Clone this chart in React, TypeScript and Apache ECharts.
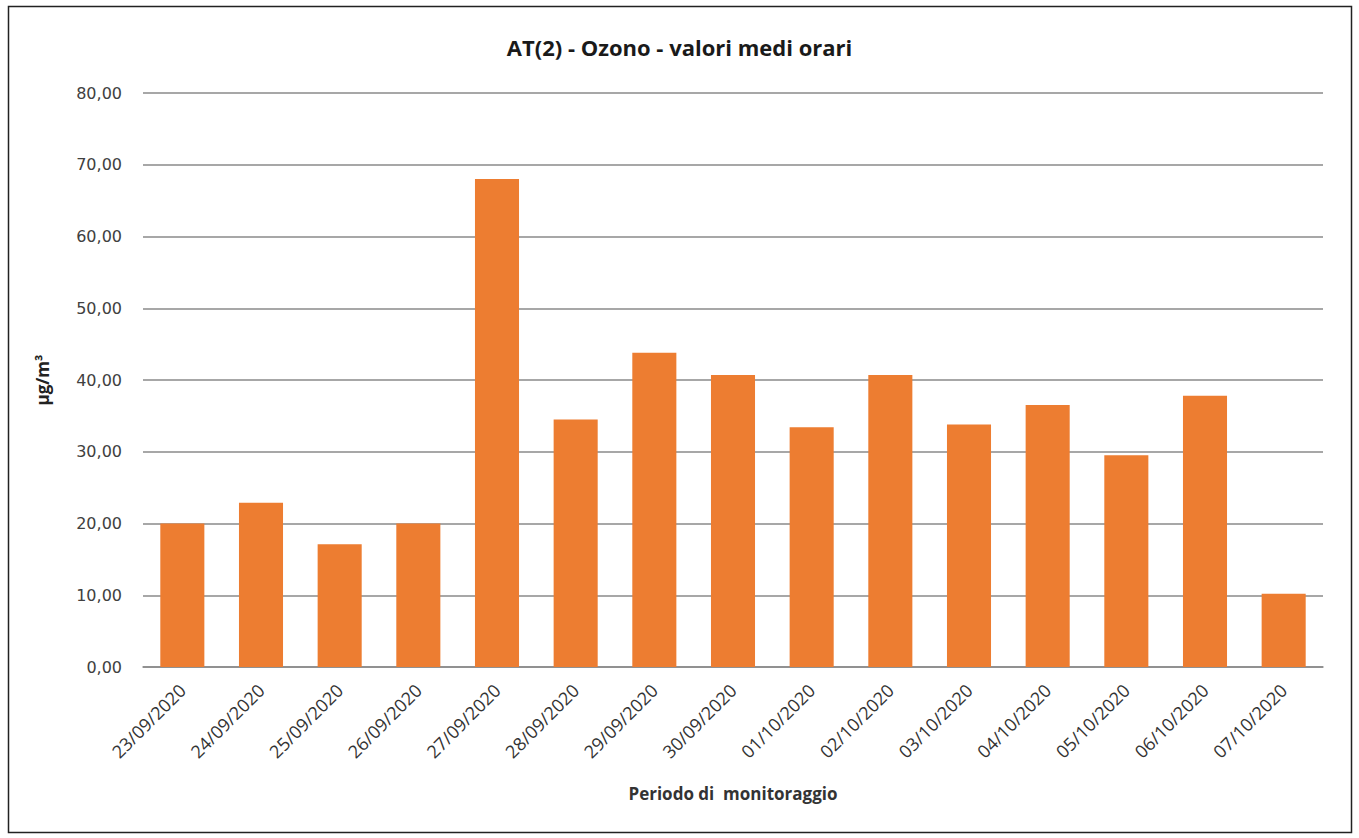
import React, { useEffect, useRef } from "react";
import * as echarts from "echarts";

const categories = [
  "23/09/2020", "24/09/2020", "25/09/2020", "26/09/2020", "27/09/2020",
  "28/09/2020", "29/09/2020", "30/09/2020", "01/10/2020", "02/10/2020",
  "03/10/2020", "04/10/2020", "05/10/2020", "06/10/2020", "07/10/2020",
];
const ozoneValues = [20.0, 22.9, 17.1, 20.0, 68.0, 34.5, 43.8, 40.7, 33.4, 40.7, 33.8, 36.5, 29.5, 37.8, 10.2];

const titleText = "AT(2) - Ozono - valori medi orari";
const xAxisName = "Periodo di  monitoraggio";
const yAxisName = "µg/m³";

export default function App() {
  const ref = useRef<HTMLDivElement>(null);
  useEffect(() => {
    if (!ref.current) return;
    const chart = echarts.init(ref.current, null, { renderer: "svg" });
    chart.setOption({
      animation: false,
      backgroundColor: "#ffffff",
      title: {
        text: titleText,
        left: "center",
        top: 31,
        textStyle: { fontFamily: "Open Sans", fontWeight: "bold", fontSize: 22, color: "#1a1a1a" },
      },
      graphic: [
        {
          type: "rect",
          shape: { x: 8.5, y: 6.5, width: 1343, height: 826 },
          style: { fill: "none", stroke: "#222", lineWidth: 1.5 },
          silent: true,
        },
      ],
      grid: { left: 143, right: 36, top: 93, bottom: 171, containLabel: false },
      xAxis: {
        type: "category",
        data: categories,
        axisLine: { lineStyle: { color: "#8a8a8a", width: 1.5 } },
        axisTick: { show: false },
        axisLabel: {
          rotate: 45,
          interval: 0,
          margin: 20,
          fontFamily: "Open Sans",
          fontSize: 18,
          color: "#333",
        },
        name: xAxisName,
        nameLocation: "middle",
        nameGap: 118,
        nameTextStyle: { fontFamily: "Open Sans", fontWeight: "bold", fontSize: 17, color: "#333" },
      },
      yAxis: {
        type: "value",
        min: 0,
        max: 80,
        interval: 10,
        axisLine: { show: false },
        axisTick: { show: false },
        splitLine: { lineStyle: { color: "#8a8a8a", width: 1.5 } },
        axisLabel: {
          margin: 21,
          fontFamily: "DejaVu Sans",
          fontSize: 16,
          color: "#404040",
          formatter: (v: number) => v.toFixed(2).replace(".", ","),
        },
        name: yAxisName,
        nameLocation: "middle",
        nameRotate: 90,
        nameGap: 92,
        nameTextStyle: { fontFamily: "Open Sans", fontWeight: "bold", fontSize: 17, color: "#222" },
      },
      series: [
        {
          type: "bar",
          data: ozoneValues,
          barWidth: "56%",
          itemStyle: { color: "#ED7D31" },
        },
      ],
    });
    return () => chart.dispose();
  }, []);
  return (
    <div
      ref={ref}
      style={{ position: "fixed", left: 0, top: 0, width: 1359, height: 838 }}
    />
  );
}
